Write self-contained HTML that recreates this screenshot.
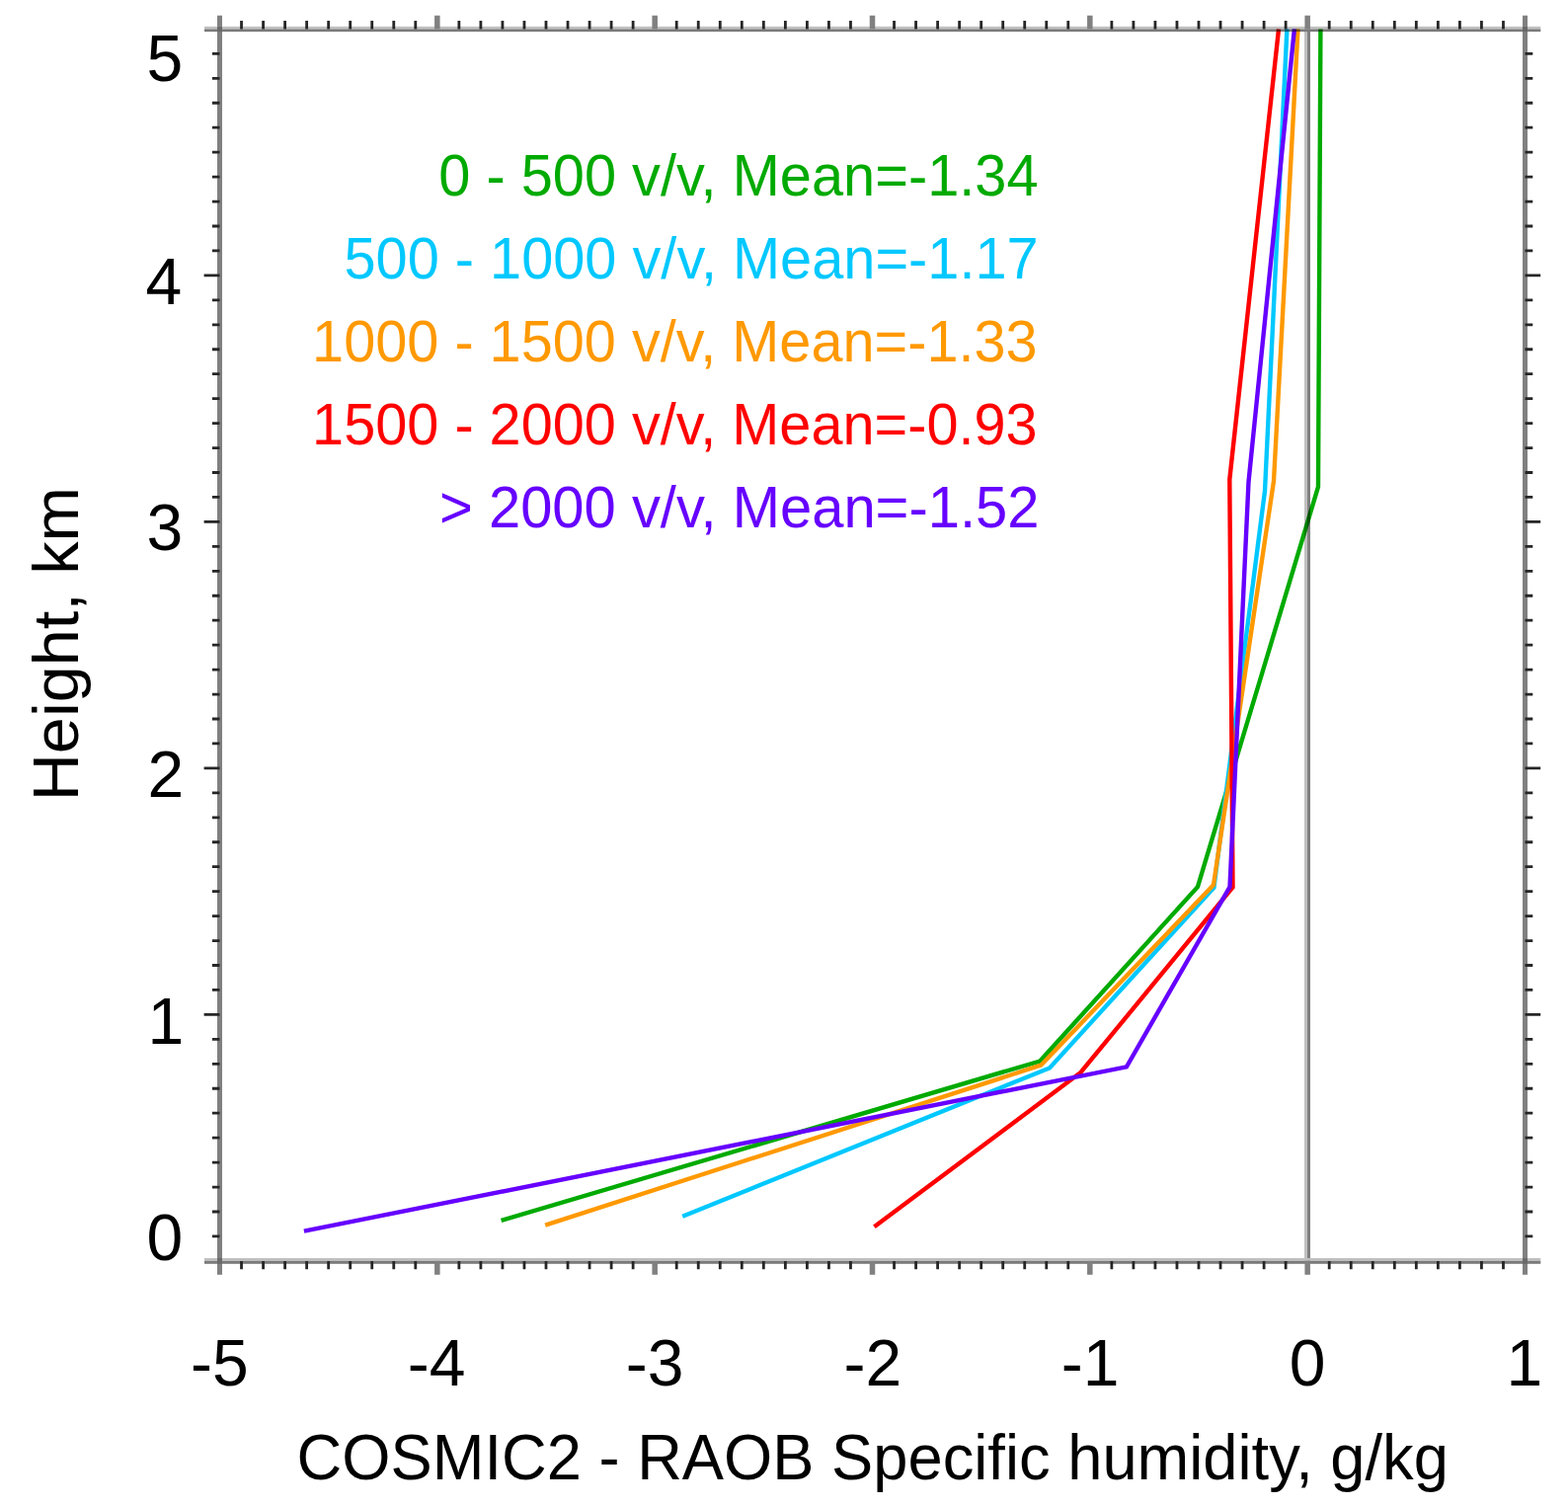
<!DOCTYPE html>
<html><head><meta charset="utf-8"><title>COSMIC2 - RAOB Specific humidity</title>
<style>
html,body{margin:0;padding:0;background:#fff;overflow:hidden;}
svg{display:block;}
text{font-family:'Liberation Sans', Arial, Helvetica, sans-serif;}
</style></head>
<body>
<svg width="1588" height="1525" viewBox="0 0 1588 1525">
<rect width="1588" height="1525" fill="#fff"/>
<g>
<polyline points="507.6,1235.9 1053.2,1074.5 1213.0,898.0 1335.0,493.0 1337.4,29.4" fill="none" stroke="#00aa00" stroke-width="4.4" stroke-linejoin="miter"/>
<polyline points="691.2,1231.7 1063.0,1081.5 1229.4,898.7 1281.0,497.0 1303.4,29.4" fill="none" stroke="#00c8ff" stroke-width="4.4" stroke-linejoin="miter"/>
<polyline points="552.2,1240.6 1054.3,1078.7 1229.0,896.0 1290.0,487.0 1314.5,29.4" fill="none" stroke="#ff9900" stroke-width="4.4" stroke-linejoin="miter"/>
<polyline points="885.4,1242.3 1094.5,1086.0 1248.5,898.5 1245.3,485.4 1295.0,29.4" fill="none" stroke="#ff0000" stroke-width="4.4" stroke-linejoin="miter"/>
<polyline points="307.9,1246.7 1140.9,1080.3 1245.5,898.0 1264.5,488.0 1310.9,29.4" fill="none" stroke="#6600ff" stroke-width="4.4" stroke-linejoin="miter"/>
</g>
<g style="mix-blend-mode:multiply">
<rect x="1321.0" y="29.40" width="3.0" height="1247.50" fill="#c0c0c0"/><rect x="1324.0" y="29.40" width="3.0" height="1247.50" fill="#808080"/>
<rect x="220.0" y="15.7" width="5.0" height="1275.10" fill="#808080"/>
<rect x="1542.0" y="15.7" width="5.0" height="1275.10" fill="#808080"/>
<rect x="207.0" y="26.8" width="1353.30" height="2.60" fill="#c0c0c0"/>
<rect x="207.0" y="29.4" width="1353.30" height="2.70" fill="#7a7a7a"/>
<rect x="207.0" y="1274.0" width="1353.30" height="2.80" fill="#c0c0c0"/>
<rect x="207.0" y="1276.8" width="1353.30" height="3.00" fill="#7a7a7a"/>
<rect x="220.0" y="26.8" width="5.0" height="5.3" fill="#6a6a6a"/>
<rect x="1542.0" y="26.8" width="5.0" height="5.3" fill="#6a6a6a"/>
<rect x="220.0" y="1274.0" width="5.0" height="5.8" fill="#6a6a6a"/>
<rect x="1542.0" y="1274.0" width="5.0" height="5.8" fill="#6a6a6a"/>
<rect x="440.08" y="15.7" width="5.5" height="13.70" fill="#808080"/>
<rect x="440.08" y="1276.90" width="5.5" height="13.90" fill="#808080"/>
<rect x="660.42" y="15.7" width="5.5" height="13.70" fill="#808080"/>
<rect x="660.42" y="1276.90" width="5.5" height="13.90" fill="#808080"/>
<rect x="880.75" y="15.7" width="5.5" height="13.70" fill="#808080"/>
<rect x="880.75" y="1276.90" width="5.5" height="13.90" fill="#808080"/>
<rect x="1101.08" y="15.7" width="5.5" height="13.70" fill="#808080"/>
<rect x="1101.08" y="1276.90" width="5.5" height="13.90" fill="#808080"/>
<rect x="1321.42" y="15.7" width="5.5" height="13.70" fill="#808080"/>
<rect x="1321.42" y="1276.90" width="5.5" height="13.90" fill="#808080"/>
<path d="M244.53 29.40V21.0M244.53 1276.90V1285.2M266.57 29.40V21.0M266.57 1276.90V1285.2M288.60 29.40V21.0M288.60 1276.90V1285.2M310.63 29.40V21.0M310.63 1276.90V1285.2M332.67 29.40V21.0M332.67 1276.90V1285.2M354.70 29.40V21.0M354.70 1276.90V1285.2M376.73 29.40V21.0M376.73 1276.90V1285.2M398.77 29.40V21.0M398.77 1276.90V1285.2M420.80 29.40V21.0M420.80 1276.90V1285.2M464.87 29.40V21.0M464.87 1276.90V1285.2M486.90 29.40V21.0M486.90 1276.90V1285.2M508.93 29.40V21.0M508.93 1276.90V1285.2M530.97 29.40V21.0M530.97 1276.90V1285.2M553.00 29.40V21.0M553.00 1276.90V1285.2M575.03 29.40V21.0M575.03 1276.90V1285.2M597.07 29.40V21.0M597.07 1276.90V1285.2M619.10 29.40V21.0M619.10 1276.90V1285.2M641.13 29.40V21.0M641.13 1276.90V1285.2M685.20 29.40V21.0M685.20 1276.90V1285.2M707.23 29.40V21.0M707.23 1276.90V1285.2M729.27 29.40V21.0M729.27 1276.90V1285.2M751.30 29.40V21.0M751.30 1276.90V1285.2M773.33 29.40V21.0M773.33 1276.90V1285.2M795.37 29.40V21.0M795.37 1276.90V1285.2M817.40 29.40V21.0M817.40 1276.90V1285.2M839.43 29.40V21.0M839.43 1276.90V1285.2M861.47 29.40V21.0M861.47 1276.90V1285.2M905.53 29.40V21.0M905.53 1276.90V1285.2M927.57 29.40V21.0M927.57 1276.90V1285.2M949.60 29.40V21.0M949.60 1276.90V1285.2M971.63 29.40V21.0M971.63 1276.90V1285.2M993.67 29.40V21.0M993.67 1276.90V1285.2M1015.70 29.40V21.0M1015.70 1276.90V1285.2M1037.73 29.40V21.0M1037.73 1276.90V1285.2M1059.77 29.40V21.0M1059.77 1276.90V1285.2M1081.80 29.40V21.0M1081.80 1276.90V1285.2M1125.87 29.40V21.0M1125.87 1276.90V1285.2M1147.90 29.40V21.0M1147.90 1276.90V1285.2M1169.93 29.40V21.0M1169.93 1276.90V1285.2M1191.97 29.40V21.0M1191.97 1276.90V1285.2M1214.00 29.40V21.0M1214.00 1276.90V1285.2M1236.03 29.40V21.0M1236.03 1276.90V1285.2M1258.07 29.40V21.0M1258.07 1276.90V1285.2M1280.10 29.40V21.0M1280.10 1276.90V1285.2M1302.13 29.40V21.0M1302.13 1276.90V1285.2M1346.20 29.40V21.0M1346.20 1276.90V1285.2M1368.23 29.40V21.0M1368.23 1276.90V1285.2M1390.27 29.40V21.0M1390.27 1276.90V1285.2M1412.30 29.40V21.0M1412.30 1276.90V1285.2M1434.33 29.40V21.0M1434.33 1276.90V1285.2M1456.37 29.40V21.0M1456.37 1276.90V1285.2M1478.40 29.40V21.0M1478.40 1276.90V1285.2M1500.43 29.40V21.0M1500.43 1276.90V1285.2M1522.47 29.40V21.0M1522.47 1276.90V1285.2M222.50 1251.95H214.9M1544.50 1251.95H1552.3M222.50 1227.00H214.9M1544.50 1227.00H1552.3M222.50 1202.05H214.9M1544.50 1202.05H1552.3M222.50 1177.10H214.9M1544.50 1177.10H1552.3M222.50 1152.15H214.9M1544.50 1152.15H1552.3M222.50 1127.20H214.9M1544.50 1127.20H1552.3M222.50 1102.25H214.9M1544.50 1102.25H1552.3M222.50 1077.30H214.9M1544.50 1077.30H1552.3M222.50 1052.35H214.9M1544.50 1052.35H1552.3M222.50 1002.45H214.9M1544.50 1002.45H1552.3M222.50 977.50H214.9M1544.50 977.50H1552.3M222.50 952.55H214.9M1544.50 952.55H1552.3M222.50 927.60H214.9M1544.50 927.60H1552.3M222.50 902.65H214.9M1544.50 902.65H1552.3M222.50 877.70H214.9M1544.50 877.70H1552.3M222.50 852.75H214.9M1544.50 852.75H1552.3M222.50 827.80H214.9M1544.50 827.80H1552.3M222.50 802.85H214.9M1544.50 802.85H1552.3M222.50 752.95H214.9M1544.50 752.95H1552.3M222.50 728.00H214.9M1544.50 728.00H1552.3M222.50 703.05H214.9M1544.50 703.05H1552.3M222.50 678.10H214.9M1544.50 678.10H1552.3M222.50 653.15H214.9M1544.50 653.15H1552.3M222.50 628.20H214.9M1544.50 628.20H1552.3M222.50 603.25H214.9M1544.50 603.25H1552.3M222.50 578.30H214.9M1544.50 578.30H1552.3M222.50 553.35H214.9M1544.50 553.35H1552.3M222.50 503.45H214.9M1544.50 503.45H1552.3M222.50 478.50H214.9M1544.50 478.50H1552.3M222.50 453.55H214.9M1544.50 453.55H1552.3M222.50 428.60H214.9M1544.50 428.60H1552.3M222.50 403.65H214.9M1544.50 403.65H1552.3M222.50 378.70H214.9M1544.50 378.70H1552.3M222.50 353.75H214.9M1544.50 353.75H1552.3M222.50 328.80H214.9M1544.50 328.80H1552.3M222.50 303.85H214.9M1544.50 303.85H1552.3M222.50 253.95H214.9M1544.50 253.95H1552.3M222.50 229.00H214.9M1544.50 229.00H1552.3M222.50 204.05H214.9M1544.50 204.05H1552.3M222.50 179.10H214.9M1544.50 179.10H1552.3M222.50 154.15H214.9M1544.50 154.15H1552.3M222.50 129.20H214.9M1544.50 129.20H1552.3M222.50 104.25H214.9M1544.50 104.25H1552.3M222.50 79.30H214.9M1544.50 79.30H1552.3M222.50 54.35H214.9M1544.50 54.35H1552.3M222.50 1027.40H206.6M1544.50 1027.40H1560.2M222.50 777.90H206.6M1544.50 777.90H1560.2M222.50 528.40H206.6M1544.50 528.40H1560.2M222.50 278.90H206.6M1544.50 278.90H1560.2" stroke="#262626" stroke-width="2.8" fill="none"/>
</g>
<g>
<text x="148.40" y="81.70" font-size="66" fill="#000">5</text>
<text x="147.40" y="307.90" font-size="66" fill="#000">4</text>
<text x="148.40" y="557.20" font-size="66" fill="#000">3</text>
<text x="149.40" y="807.20" font-size="66" fill="#000">2</text>
<text x="149.40" y="1057.40" font-size="66" fill="#000">1</text>
<text x="148.40" y="1275.90" font-size="66" fill="#000">0</text>
<text x="193.00" y="1403.00" font-size="66" fill="#000">-5</text>
<text x="412.83" y="1403.00" font-size="66" fill="#000">-4</text>
<text x="633.67" y="1403.00" font-size="66" fill="#000">-3</text>
<text x="854.50" y="1403.00" font-size="66" fill="#000">-2</text>
<text x="1074.83" y="1403.00" font-size="66" fill="#000">-1</text>
<text x="1305.67" y="1403.00" font-size="66" fill="#000">0</text>
<text x="1525.50" y="1403.00" font-size="66" fill="#000">1</text>
<text transform="translate(300.58,1498.30) scale(0.9737,1)" font-size="65" fill="#000">COSMIC2 - RAOB Specific humidity, g/kg</text>
<text transform="translate(444.24,197.60) scale(0.9791,1)" font-size="59" fill="#00aa00">0 - 500 v/v, Mean=-1.34</text>
<text transform="translate(348.46,281.80) scale(0.9784,1)" font-size="59" fill="#00c8ff">500 - 1000 v/v, Mean=-1.17</text>
<text transform="translate(316.11,366.00) scale(0.9773,1)" font-size="59" fill="#ff9900">1000 - 1500 v/v, Mean=-1.33</text>
<text transform="translate(316.11,450.20) scale(0.9773,1)" font-size="59" fill="#ff0000">1500 - 2000 v/v, Mean=-0.93</text>
<text transform="translate(445.05,534.40) scale(0.9817,1)" font-size="59" fill="#6600ff">&gt; 2000 v/v, Mean=-1.52</text>
<text transform="translate(78.60,811.22) rotate(-90) scale(1.0246,1)" font-size="65" fill="#000">Height, km</text>
</g>
</svg>
</body></html>
